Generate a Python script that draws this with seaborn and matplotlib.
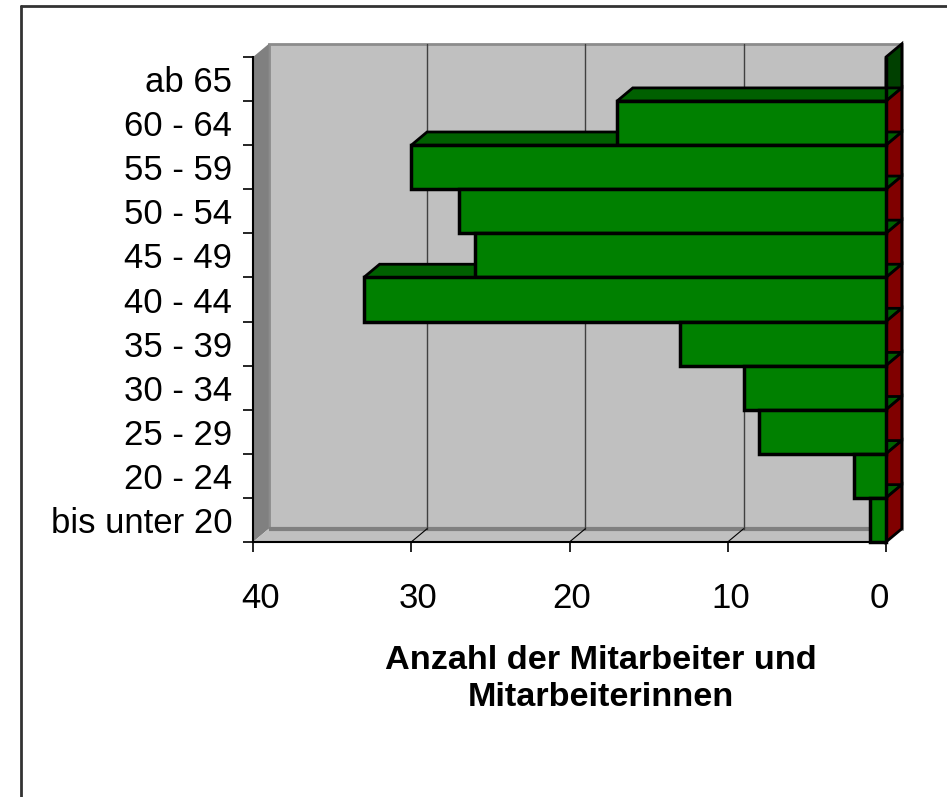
import matplotlib
matplotlib.use("Agg")
import matplotlib.pyplot as plt
import seaborn as sns
import numpy as np
from matplotlib.patches import Polygon, Rectangle
from matplotlib.lines import Line2D
from matplotlib.ticker import FixedLocator

# age groups, bottom to top as in the chart
groups = ["bis unter 20", "20 - 24", "25 - 29", "30 - 34", "35 - 39", "40 - 44",
          "45 - 49", "50 - 54", "55 - 59", "60 - 64", "ab 65"]
counts = [1, 2, 8, 9, 13, 33, 26, 27, 30, 17, 0]
xticks = [40, 30, 20, 10, 0]
xlabel = "Anzahl der Mitarbeiter und\nMitarbeiterinnen"

sns.set_style("ticks")
plt.rcParams['font.family'] = ['Liberation Sans', 'DejaVu Sans']
plt.rcParams['text.color'] = 'black'
plt.rcParams['xtick.color'] = 'black'
plt.rcParams['ytick.color'] = 'black'

W, H = 947, 797
fig = plt.figure(figsize=(W / 100, H / 100), dpi=100)
fig.patch.set_facecolor("white")
# axes placed so that 40 -> px 253, 0 -> px 886, rows 44 px high
ax = fig.add_axes([240 / W, 1 - 560 / H, 675 / W, 530 / H])
ax.patch.set_visible(False)

order = groups[::-1]  # top row first
n = len(order)
vals = counts[::-1]

DX, DY = -1.0, -0.3  # depth offset in data units (right and up)
top, bot = -0.5, n - 0.5

# back wall, left wall, floor
ax.add_patch(Rectangle((40 + DX, top + DY), -40, bot - top, facecolor="#c0c0c0",
                       edgecolor="#8c8c8c", lw=2, zorder=1))
ax.add_patch(Polygon([(40, top), (40 + DX, top + DY), (40 + DX, bot + DY), (40, bot)],
                     closed=True, facecolor="#808080", edgecolor="none", zorder=1.2))
ax.add_patch(Polygon([(40, bot), (40 + DX, bot + DY), (DX, bot + DY), (0, bot)],
                     closed=True, facecolor="#c0c0c0", edgecolor="none", zorder=1.2))
ax.plot([40 + DX, DX], [bot + DY, bot + DY], color="#808080", lw=3, zorder=1.3,
        solid_capstyle="butt")

# gridlines on back wall and floor
for t in xticks[1:-1]:
    ax.plot([t + DX, t + DX], [top + DY, bot + DY], color="#404040", lw=1, zorder=2)
    ax.plot([t, t + DX], [bot, bot + DY], color="black", lw=0.8, zorder=2)

# bar top faces and side faces
for i, v in enumerate(vals):
    y0 = i - 0.5
    if v > 0:
        ax.add_patch(Polygon([(v, y0), (v + DX, y0 + DY), (DX, y0 + DY), (0, y0)],
                             closed=True, facecolor="#006000", edgecolor="black",
                             lw=2, zorder=4))
    side = "#004000" if v == 0 else "#800000"
    ax.add_patch(Polygon([(0, y0), (DX, y0 + DY), (DX, y0 + 1 + DY), (0, y0 + 1)],
                         closed=True, facecolor=side, edgecolor="black", lw=2, zorder=4))

sns.barplot(x=vals, y=order, order=order, orient="h", color="#008000", saturation=1,
            edgecolor="black", linewidth=2.5, width=1.0, ax=ax, zorder=5)

ax.set_xlim(40 + 13 / 15.825, -29 / 15.825)
ax.set_ylim(bot + 18 / 44, top - 27 / 44)

ax.set_xticks(xticks)
ax.set_xticklabels([])
# x tick labels are not exactly centred under the ticks in the original
label_shift_px = [8, 7, 2, 3, -7]
for t, dx in zip(xticks, label_shift_px):
    ax.annotate(str(t), xy=(t, bot), xytext=(dx * 0.72, -29), textcoords="offset points",
                ha="center", va="top", fontsize=25, color="black",
                annotation_clip=False)
ax.yaxis.set_minor_locator(FixedLocator(np.arange(top, bot + 0.01, 1.0)))
ax.tick_params(axis="y", which="major", length=0, pad=15, labelsize=25,
               labelcolor="black")
ax.tick_params(axis="y", which="minor", length=7.5, width=1.2, color="black", left=True)
ax.tick_params(axis="x", length=7.5, width=1.2, color="black")
ax.set_xlabel("")
ax.set_ylabel("")

for s in ["top", "right"]:
    ax.spines[s].set_visible(False)
ax.spines["left"].set_position(("data", 40))
ax.spines["bottom"].set_position(("data", bot))
ax.spines["left"].set_bounds(top, bot)
ax.spines["bottom"].set_bounds(0, 40)
for s in ["left", "bottom"]:
    ax.spines[s].set_color("black")
    ax.spines[s].set_linewidth(1.5)
    ax.spines[s].set_zorder(6)

fig.text(601 / W, 1 - 679 / H, xlabel, ha="center", va="center", fontsize=24.7,
         fontweight="bold", linespacing=1.25, color="black")

# outer frame (left and top edges only visible)
fig.add_artist(Line2D([20.5 / W, 20.5 / W], [0, 1 - 6 / H], color="#333333", lw=2,
                      transform=fig.transFigure))
fig.add_artist(Line2D([20.5 / W, 1], [1 - 6 / H, 1 - 6 / H], color="#333333", lw=2,
                      transform=fig.transFigure))

fig.savefig("out.png", dpi=100)
